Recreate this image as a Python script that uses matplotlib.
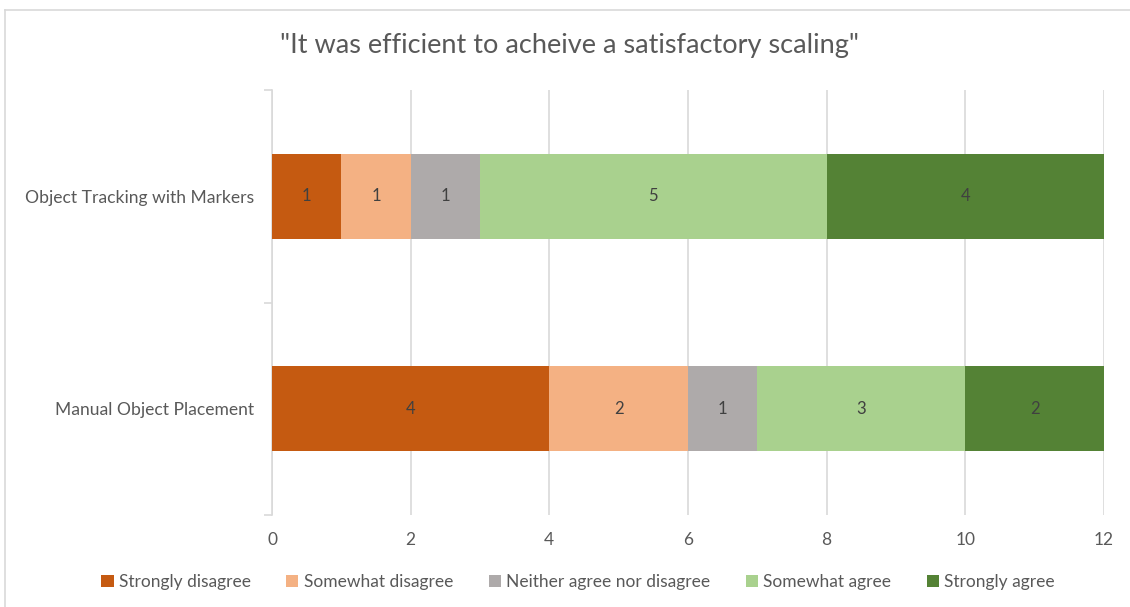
import matplotlib
matplotlib.use("Agg")
import matplotlib.pyplot as plt
from matplotlib.patches import Patch
from matplotlib.lines import Line2D
import numpy as np

plt.rcParams['font.family'] = ['Lato', 'DejaVu Sans']

# Survey responses: "It was efficient to acheive a satisfactory scaling"
methods = ["Manual Object Placement", "Object Tracking with Markers"]
responses = ["Strongly disagree", "Somewhat disagree", "Neither agree nor disagree",
             "Somewhat agree", "Strongly agree"]
strongly_disagree = [4, 1]
somewhat_disagree = [2, 1]
neither = [1, 1]
somewhat_agree = [3, 5]
strongly_agree = [2, 4]
x_ticks = [0, 2, 4, 6, 8, 10, 12]

series = [strongly_disagree, somewhat_disagree, neither, somewhat_agree, strongly_agree]
colors = ["#C55A11", "#F4B183", "#AEAAAA", "#A9D18E", "#548235"]

text_color = "#595959"
grid_color = "#D9D9D9"

fig = plt.figure(figsize=(11.3, 6.07), dpi=100)
ax = fig.add_axes([272 / 1130, 1 - 515 / 607, (1104 - 272) / 1130, (515 - 90) / 607])

ypos = np.arange(len(methods))
left = np.zeros(len(methods))
for vals, col, name in zip(series, colors, responses):
    vals = np.array(vals, dtype=float)
    ax.barh(ypos, vals, left=left, height=0.4, color=col, label=name, zorder=3)
    for y, l, v in zip(ypos, left, vals):
        if v > 0:
            ax.text(l + v / 2, y, f"{int(v)}", ha="center", va="center",
                    fontsize=12, color="#404040", zorder=4)
    left += vals

ax.set_xlim(0, 12)
ax.set_ylim(-0.5, len(methods) - 0.5)
ax.set_xticks(x_ticks)
ax.set_xticklabels([str(t) for t in x_ticks], fontsize=12.5, color=text_color)
ax.tick_params(axis="x", length=0, pad=12)
ax.xaxis.grid(True, color=grid_color, linewidth=1.2, zorder=0)

# category labels at bar centres, tick marks at category boundaries
ax.set_yticks(np.arange(-0.5, len(methods), 1.0))
ax.set_yticklabels([])
ax.tick_params(axis="y", which="major", length=6, color=grid_color, width=1.2)
ax.set_yticks(ypos, minor=True)
ax.set_yticklabels(methods, minor=True, fontsize=12.6, color=text_color)
ax.tick_params(axis="y", which="minor", length=0, pad=13)

for s in ["top", "right", "bottom"]:
    ax.spines[s].set_visible(False)
ax.spines["left"].set_color(grid_color)
ax.spines["left"].set_linewidth(1.2)

fig.text(570 / 1130, 1 - 45 / 607, '"It was efficient to acheive a satisfactory scaling"',
         ha="center", va="center", fontsize=19.5, color=text_color)

handles = [Patch(facecolor=c, edgecolor="none") for c in colors]
fig.legend(handles, responses, loc="center", bbox_to_anchor=(578 / 1130, 1 - 582 / 607),
           ncol=5, frameon=False, fontsize=12.5, handlelength=0.7, handleheight=0.7,
           handletextpad=0.3, columnspacing=2.05, labelcolor=text_color)

# chart frame
fig.add_artist(Line2D([5 / 1130, 1], [1 - 10 / 607, 1 - 10 / 607],
                      transform=fig.transFigure, color=grid_color, linewidth=1.2))
fig.add_artist(Line2D([5 / 1130, 5 / 1130], [0, 1 - 10 / 607],
                      transform=fig.transFigure, color=grid_color, linewidth=1.2))

fig.savefig("out.png", dpi=100)
